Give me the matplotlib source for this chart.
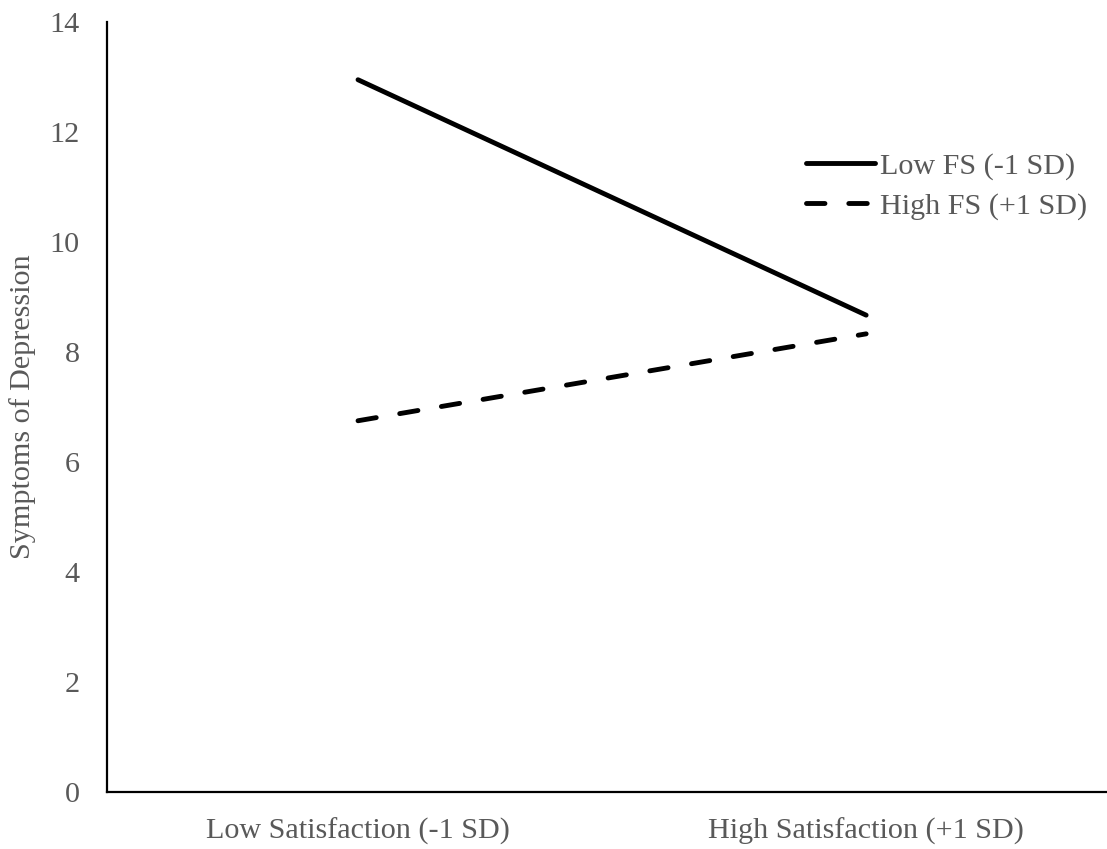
import matplotlib.pyplot as plt
from matplotlib.lines import Line2D

categories = ["Low Satisfaction (-1 SD)", "High Satisfaction (+1 SD)"]
low_fs = [12.95, 8.67]
high_fs = [6.75, 8.33]
series_names = ["Low FS (-1 SD)", "High FS (+1 SD)"]

plt.rcParams['font.family'] = ['Liberation Serif', 'DejaVu Serif']
gray = '#595959'
fs = 21.7
dash = (3.8, 4.9)

fig = plt.figure(figsize=(11.07, 8.49), dpi=100)
ax = fig.add_axes([107 / 1107, 1 - 792 / 849, 1000 / 1107, 770 / 849])

x = list(range(len(categories)))
ax.plot(x, low_fs, color='black', lw=3.5, solid_capstyle='round')
ax.plot(x, high_fs, color='black', lw=3.5, dashes=dash, dash_capstyle='round')

ax.set_xlim(-0.494, 1.474)
ax.set_ylim(0, 14)
ax.set_yticks(range(0, 15, 2))
ax.set_xticks(x)
ax.set_xticklabels(categories)
ax.tick_params(length=0, labelsize=fs, labelcolor=gray)
ax.tick_params(axis='y', pad=19.5)
ax.tick_params(axis='x', pad=18.5)
for s in ['top', 'right']:
    ax.spines[s].set_visible(False)
for s in ['left', 'bottom']:
    ax.spines[s].set_linewidth(1.6)
    ax.spines[s].set_color('black')
ax.set_ylabel("Symptoms of Depression", fontsize=fs, color=gray, labelpad=10)

handles = [Line2D([], [], color='black', lw=3.5, solid_capstyle='round'),
           Line2D([], [], color='black', lw=3.5, dashes=dash, dash_capstyle='round')]
leg = ax.legend(handles, series_names, loc='upper left', bbox_to_anchor=(0.699, 0.83),
                frameon=False, fontsize=fs, handlelength=2.3, handletextpad=0.15,
                labelspacing=0.4, borderpad=0, borderaxespad=0)
for t in leg.get_texts():
    t.set_color(gray)

fig.savefig("out.png", dpi=100)
